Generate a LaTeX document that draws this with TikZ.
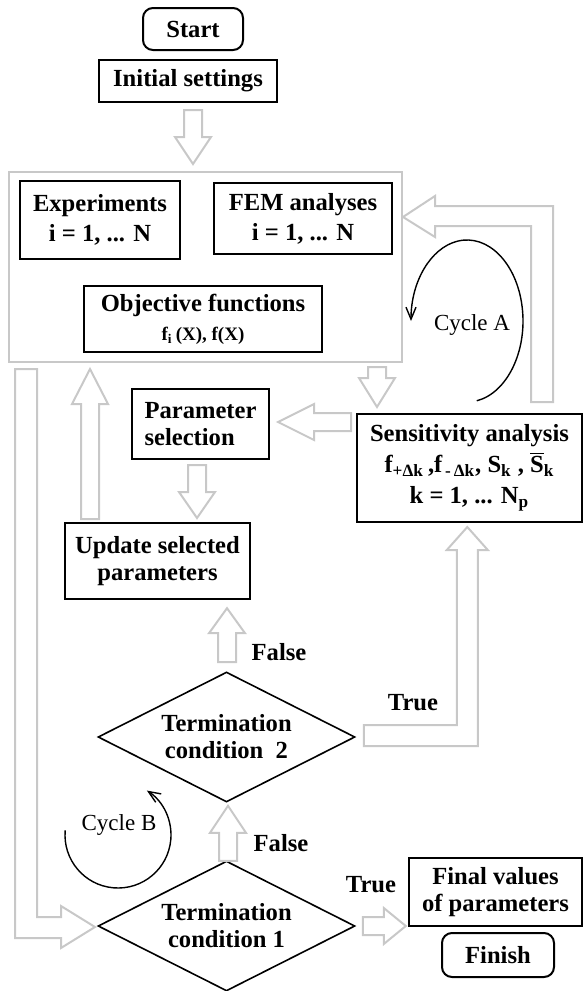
\documentclass[tikz,border=0pt]{standalone}
\usepackage{fontspec}
\setmainfont{Liberation Serif}
\usetikzlibrary{arrows.meta,shapes.geometric,calc}
\tikzset{>={Straight Barb[length=6pt,width=5pt]}}
\definecolor{arrowgray}{RGB}{200,200,200}
% hollow block arrow: tip, direction back to the tail, length, head length
\newcommand{\blockarrow}[4]{%
  \draw[blk, shift={#1}, rotate=#2] (0,0) -- (#4,18) -- (#4,9) -- (#3,9) -- (#3,-9) -- (#4,-9) -- (#4,-18) -- cycle;}

\begin{document}
\begin{tikzpicture}[x=0.5pt, y=-0.5pt,
  box/.style = {draw, line width=1pt, align=center, inner sep=0pt, font=\fontsize{12.3}{13.5}\selectfont\bfseries},
  term/.style = {box, rounded corners=5pt},
  cond/.style = {box, diamond, line width=0.8pt, aspect=2, minimum width=128.5pt, minimum height=65pt},
  blk/.style = {draw=arrowgray, line width=1pt, line join=miter},
  tf/.style = {font=\fontsize{12.3}{13.5}\selectfont\bfseries},
  cyc/.style = {->, line width=0.7pt},
  cyclbl/.style = {font=\fontsize{11.5}{13}\selectfont}]
\useasboundingbox (0,0) rectangle (584,991);

\node[term, minimum width=50pt, minimum height=21pt] (start) at (193,29) {Start};
\node[box, minimum width=89pt, minimum height=21pt] (init) at (188,81) {Initial settings};

\node[draw=arrowgray, line width=1pt, minimum width=196.5pt, minimum height=95pt] (mainbox) at (205.5,267) {};
\node[box, minimum width=80pt, minimum height=39pt, font=\fontsize{12.3}{15}\selectfont\bfseries] (exper) at (100,220) {Experiments\\i = 1, ... N};
\node[box, minimum width=89pt, minimum height=35.5pt, font=\fontsize{12.3}{15}\selectfont\bfseries] (fem) at (303,218.5) {FEM analyses\\i = 1, ... N};
\node[box, minimum width=119pt, minimum height=33pt, font=\fontsize{12.3}{14.5}\selectfont\bfseries] (objf) at (203,319) {Objective functions\\{\fontsize{9.5}{11}\selectfont f\textsubscript{i}\,(X), f(X)}};

\node[box, minimum width=112.5pt, minimum height=54pt, font=\fontsize{12.3}{15.5}\selectfont\bfseries] (sens) at (469.5,468)
  {Sensitivity analysis\\f\textsubscript{+Δk}\,,f\textsubscript{\,-\,Δk}, S\textsubscript{k} , $\overline{\mbox{S}}$\textsubscript{k}\\k = 1, ... N\textsubscript{p}};
\node[box, minimum width=68.5pt, minimum height=35pt, align=left] (param) at (200.5,424) {Parameter\\selection};
\node[box, minimum width=92.5pt, minimum height=38pt] (update) at (157.5,561) {Update selected\\parameters};

\node[cond] (tc2) at (226.5,737) {Termination\\condition~~2};
\node[cond] (tc1) at (226.5,926) {Termination\\condition 1};

\node[box, minimum width=86.5pt, minimum height=34pt] (final) at (495.5,892) {Final values\\of parameters};
\node[term, minimum width=56pt, minimum height=22pt] (finish) at (498,955) {Finish};

\node[tf] (false2) at (279,652) {False};
\node[tf] (false1) at (281,843) {False};
\node[tf] (true2) at (413,703) {True};
\node[tf] (true1) at (371,885) {True};
\node[cyclbl] (cycA) at (472,325) {Cycle A};
\node[cyclbl] (cycB) at (119,825) {Cycle B};

% straight block arrows
\blockarrow{($(init.south)+(5,61)$)}{90}{54}{27}
\blockarrow{($(sens.north)+(-92.5,-6)$)}{90}{40}{29}
\blockarrow{($(param.east)+(8,-2)$)}{0}{73}{36}
\blockarrow{($(update.north)+(39.5,-4)$)}{90}{53}{26}
\blockarrow{($(mainbox.south)+(-115.5,6)$)}{-90}{150}{35}
\blockarrow{($(tc2.north)+(0.5,-63)$)}{-90}{54}{25}
\blockarrow{($(tc2.south)+(1.5,3)$)}{-90}{55}{27}
\blockarrow{($(tc1.east)+(50,0)$)}{180}{43}{22}

% bent block arrows
\draw[blk] ($(sens.north)+(61.5,-11)$) -- ++(22,0) -- ++(0,-196) -- ++(-118,0) -- ++(0,-10)
  -- ++(-32,21) -- ++(32,20) -- ++(0,-11) -- ++(96,0) -- cycle;
\draw[blk] ($(tc2.east)+(8,-12)$) -- ++(93,0) -- ++(0,-175) -- ++(-10,0) -- ++(20.5,-23)
  -- ++(20.5,23) -- ++(-10,0) -- ++(0,196) -- ++(-114,0) -- cycle;
\draw[blk] ($(mainbox.south)+(-190.5,6)$) -- ++(22,0) -- ++(0,548) -- ++(24,0) -- ++(0,-11)
  -- ++(34,21) -- ++(-34,21) -- ++(0,-10) -- ++(-46,0) -- cycle;

% cycles
\draw[cyc] ($(cycA.center)+(-5,-4)$) ++(80:56 and 81) arc[start angle=80, end angle=-180, x radius=56, y radius=81];
\draw[cyc] ($(cycB.center)+(-1,10)$) ++(185:53) arc[start angle=185, end angle=-57, radius=53];
\end{tikzpicture}
\end{document}
